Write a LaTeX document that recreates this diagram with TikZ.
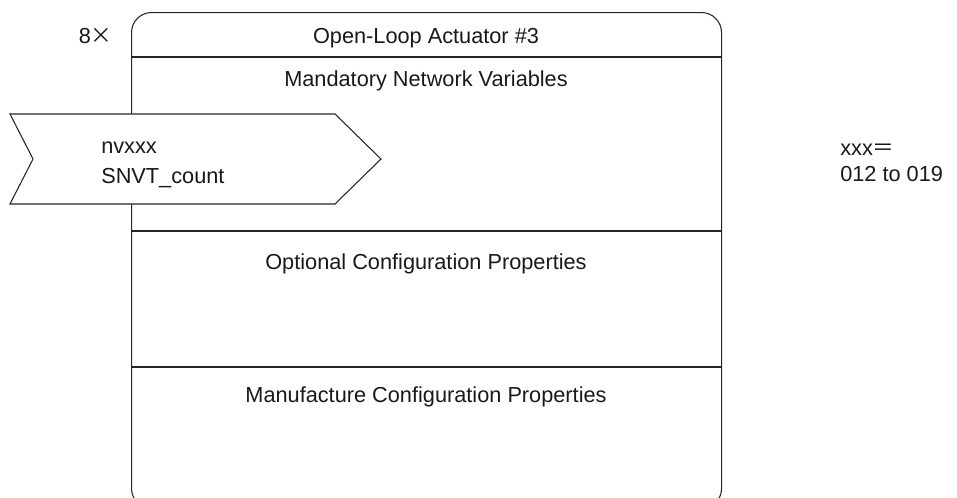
\documentclass[tikz,border=0pt]{standalone}
\usepackage{fontspec}
\setmainfont{Liberation Sans}
\newfontfamily\cjkfont{Noto Sans CJK JP}
\begin{document}
\begin{tikzpicture}[x=0.75pt,y=-0.75pt,
  lineclr/.style={draw=black!85, line width=0.8pt},
  lbl/.style={font=\fontsize{16.3}{19}\selectfont, inner sep=0pt, text=black!90},
  ]
\useasboundingbox (0,0) rectangle (957,497);
\clip (0,0) rectangle (957,497);
% main box
\node[lineclr, rounded corners=15pt, minimum width=442.5pt, minimum height=372pt, anchor=north west, inner sep=0pt] (box) at (131,12) {};
% separators
\coordinate (s1l) at (131,57);   \coordinate (s1r) at (721,57);
\coordinate (s2l) at (131,231);  \coordinate (s2r) at (721,231);
\coordinate (s3l) at (131,367);  \coordinate (s3r) at (721,367);
\draw[lineclr] (s1l) -- (s1r);
\draw[lineclr] (s2l) -- (s2r);
\draw[lineclr] (s3l) -- (s3r);
% arrow (network variable)
\coordinate (a1) at (10,114);
\coordinate (a2) at (335,114);
\coordinate (a3) at (381,159);
\coordinate (a4) at (335,204);
\coordinate (a5) at (10,204);
\coordinate (a6) at (33,159);
\filldraw[lineclr, fill=white, line join=miter] (a1) -- (a2) -- (a3) -- (a4) -- (a5) -- (a6) -- cycle;
% texts
\node[lbl, anchor=base east] (mult) at (113,43) {8{\cjkfont ×}};
\node[lbl, anchor=base] (title) at (426,43) {Open-Loop Actuator \#3};
\node[lbl, anchor=base] (mand) at (426,86) {Mandatory Network Variables};
\node[lbl, anchor=base] (opt) at (426,269) {Optional Configuration Properties};
\node[lbl, anchor=base] (manu) at (426,402) {Manufacture Configuration Properties};
\node[lbl, anchor=base west] (nv) at (101,153) {nvxxx};
\node[lbl, anchor=base west] (snvt) at (101,183) {SNVT\_count};
\node[lbl, anchor=base west] (xxx) at (840,155) {xxx{\cjkfont ＝}};
\node[lbl, anchor=base west] (rng) at (840,181) {012 to 019};
\end{tikzpicture}
\end{document}
